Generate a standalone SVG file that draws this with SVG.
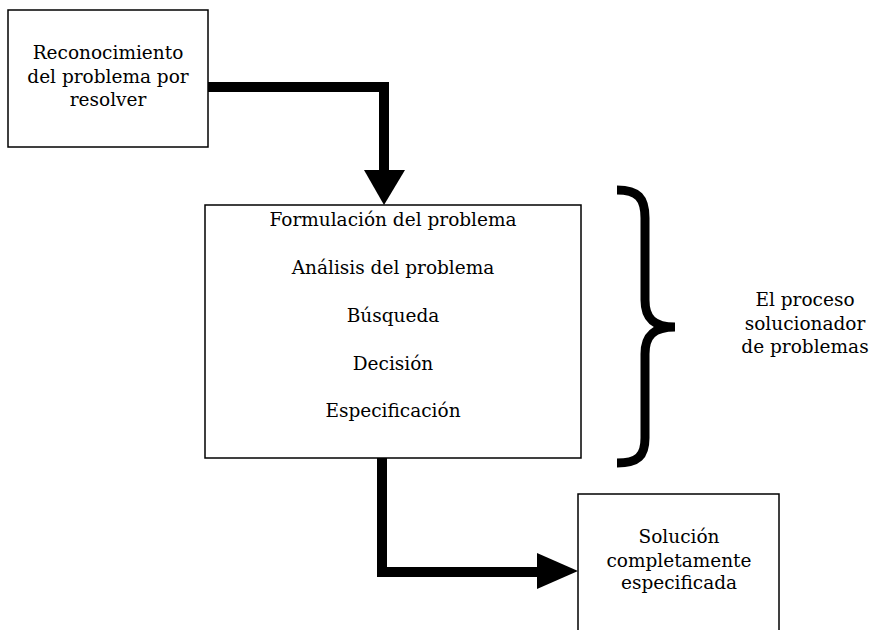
<svg xmlns="http://www.w3.org/2000/svg" width="871" height="630" viewBox="0 0 871 630">
<style>
.box{fill:#fff;stroke:#000;stroke-width:1.5}
.t{font-family:"DejaVu Serif","Liberation Serif",serif;font-size:18.5px;fill:#000;text-anchor:middle}
.conn{fill:none;stroke:#000;stroke-width:10;stroke-linejoin:miter}
.head{fill:#000;stroke:none}
.brace{fill:none;stroke:#000;stroke-width:9;stroke-linecap:butt}
</style>
<rect width="871" height="630" fill="#fff"/>
<g id="connectors">
<path class="conn" d="M208,87 H384 V172"/>
<polygon class="head" points="364,170 405,170 384,205"/>
<path class="conn" d="M382,458 V572 H540"/>
<polygon class="head" points="537,553 537,589 578,571"/>
</g>
<g id="n1">
<rect class="box" x="8" y="10" width="200" height="137"/>
<text class="t" x="108" y="59">Reconocimiento</text>
<text class="t" x="108" y="83">del problema por</text>
<text class="t" x="108" y="106">resolver</text>
</g>
<g id="n2">
<rect class="box" x="205" y="205" width="376" height="253"/>
<text class="t" x="393" y="226">Formulación del problema</text>
<text class="t" x="393" y="274">Análisis del problema</text>
<text class="t" x="393" y="322">Búsqueda</text>
<text class="t" x="393" y="370">Decisión</text>
<text class="t" x="393" y="417">Especificación</text>
</g>
<g id="brace">
<path class="brace" d="M617,190 C638,190 645,198 645,218 L645,300 C645,318 653,327 675,327 C653,327 645,336 645,354 L645,438 C645,456 638,463 617,463"/>
<text class="t" x="805" y="306">El proceso</text>
<text class="t" x="805" y="330">solucionador</text>
<text class="t" x="805" y="353">de problemas</text>
</g>
<g id="n3">
<rect class="box" x="578" y="494" width="201" height="150"/>
<text class="t" x="679" y="543">Solución</text>
<text class="t" x="679" y="567">completamente</text>
<text class="t" x="679" y="589">especificada</text>
</g>
</svg>
